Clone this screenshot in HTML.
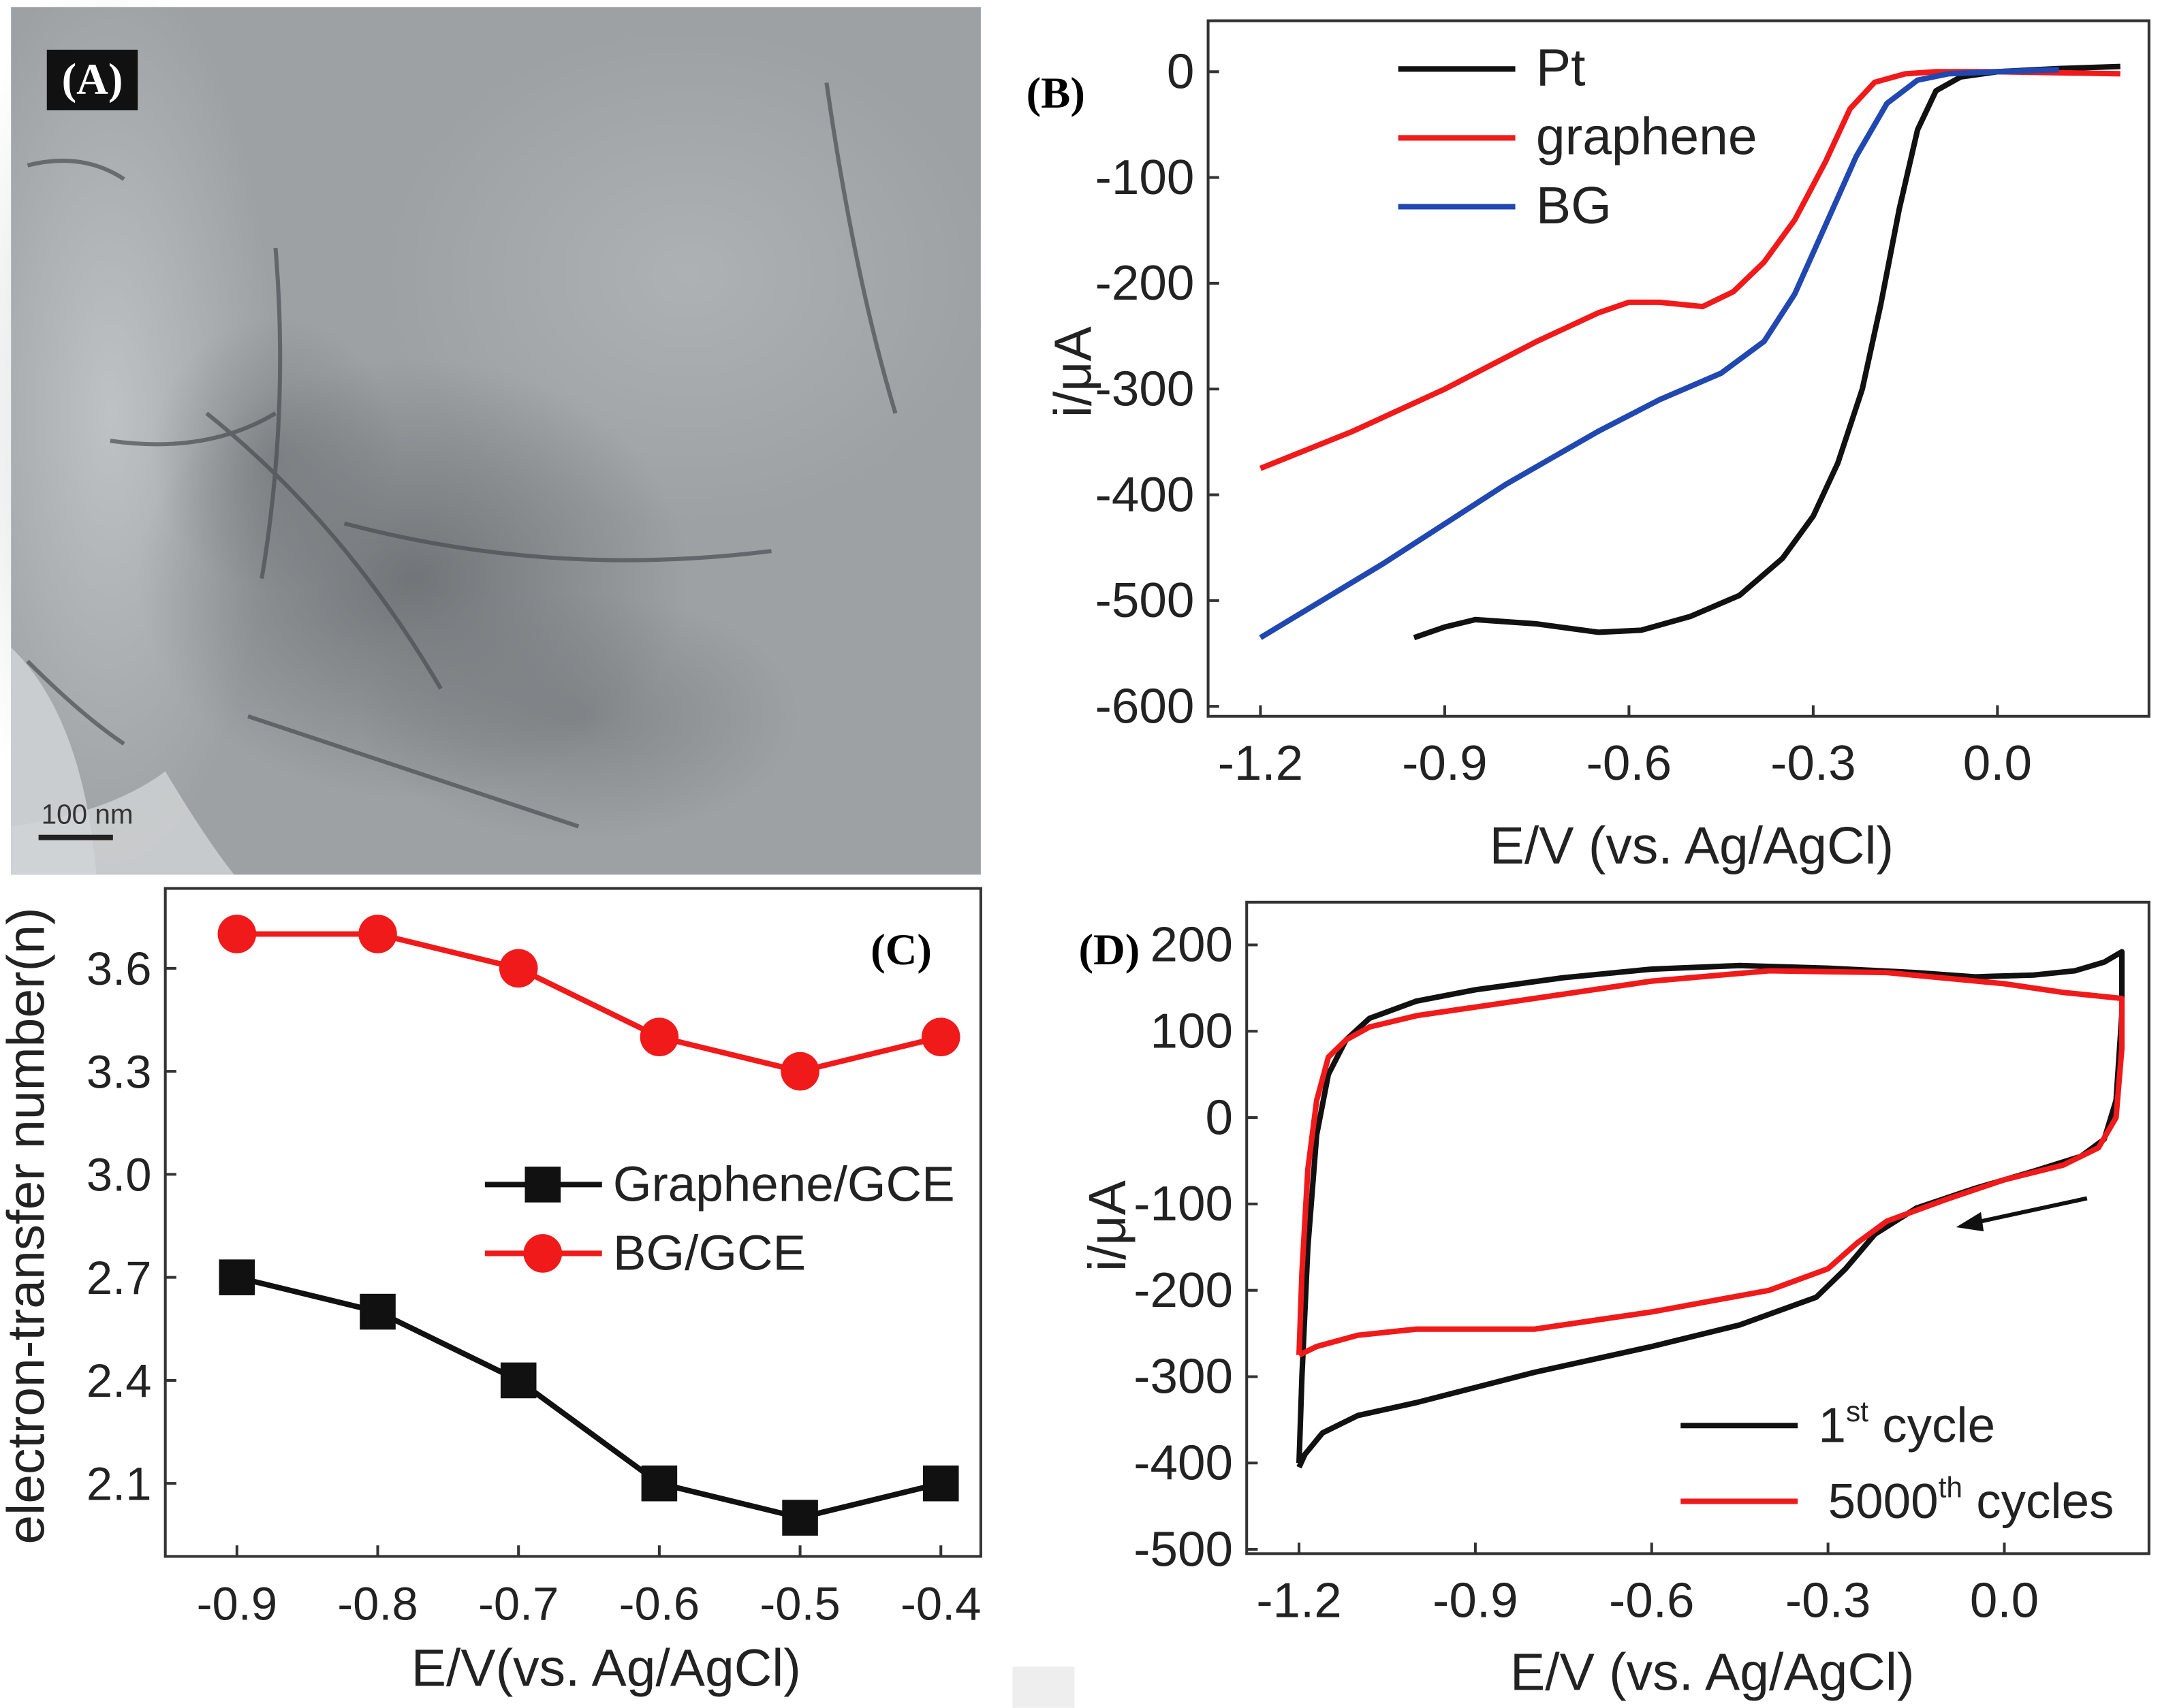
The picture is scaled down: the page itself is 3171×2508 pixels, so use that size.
<!DOCTYPE html>
<html><head><meta charset="utf-8"><style>
html,body{margin:0;padding:0;background:#fff}
svg{display:block}
text{font-family:"Liberation Sans",sans-serif}
.t{font-size:36px;fill:#222}
.tc{font-size:34px;fill:#222}
.ti{font-size:38px;fill:#222}
.lb{font-size:38px;fill:#222}
.pl{font-family:"Liberation Serif",serif;font-weight:bold;font-size:32px}
</style></head><body>
<svg id="fig" width="3171" height="2508" viewBox="0 0 1568 1240" xmlns="http://www.w3.org/2000/svg">
<defs>
<radialGradient id="dk1" cx="0.5" cy="0.5" r="0.5"><stop offset="0" stop-color="#5e6266" stop-opacity="0.7"/><stop offset="1" stop-color="#5e6266" stop-opacity="0"/></radialGradient>
<radialGradient id="lt1" cx="0.5" cy="0.5" r="0.5"><stop offset="0" stop-color="#c6cacc" stop-opacity="0.8"/><stop offset="1" stop-color="#c6cacc" stop-opacity="0"/></radialGradient>
</defs>
<g>
<rect x="8" y="5" width="704" height="630" fill="#9da1a4"/>
<ellipse cx="80" cy="300" rx="120" ry="330" fill="url(#lt1)"/>
<ellipse cx="500" cy="200" rx="220" ry="180" fill="url(#lt1)" opacity="0.5"/>
<ellipse cx="300" cy="420" rx="200" ry="160" fill="url(#dk1)"/>
<ellipse cx="420" cy="520" rx="160" ry="90" fill="url(#dk1)" opacity="0.6"/>
<ellipse cx="200" cy="330" rx="90" ry="100" fill="url(#dk1)" opacity="0.6"/>
<path d="M8 470 Q60 520 70 635 L8 635 Z" fill="#c9cdcf"/>
<path d="M120 560 Q150 610 170 635 L8 635 L8 600 Q80 590 120 560Z" fill="#d2d5d6" opacity="0.8"/>
<g stroke="#4a4e52" stroke-width="3" fill="none" opacity="0.7">
<path d="M20 120 Q60 110 90 130"/><path d="M80 320 Q150 330 200 300"/><path d="M150 300 Q250 380 320 500"/>
<path d="M20 480 Q60 520 90 540"/><path d="M200 180 Q210 300 190 420"/><path d="M600 60 Q620 200 650 300"/>
<path d="M250 380 Q400 420 560 400"/><path d="M180 520 Q300 560 420 600"/>
</g>
<rect x="34" y="36" width="66" height="44" fill="#111"/>
<text x="67" y="68" class="pl" fill="#fff" text-anchor="middle">(A)</text>
<line x1="28" y1="608" x2="82" y2="608" stroke="#222" stroke-width="4"/>
<text x="30" y="598" font-size="20" fill="#333" font-family="Liberation Mono">100 nm</text>
</g>
<rect x="735" y="1210" width="45" height="30" fill="#eee"/>
<g id="pB"></g>
<g id="pC"></g>
<g id="pD"></g>
</svg>
<script>
const NS="http://www.w3.org/2000/svg";
function el(p,tag,a,txt){const e=document.createElementNS(NS,tag);for(const k in a)e.setAttribute(k,a[k]);if(txt!=null)e.textContent=txt;p.appendChild(e);return e;}
// ---- Panel B data ----
const bXTicks=[-1.2,-0.9,-0.6,-0.3,0.0];
const bYTicks=[0,-100,-200,-300,-400,-500,-600];
const ptE=[-0.95,-0.9,-0.85,-0.75,-0.65,-0.58,-0.5,-0.42,-0.35,-0.3,-0.26,-0.22,-0.19,-0.16,-0.13,-0.1,-0.06,0.0,0.1,0.2];
const ptI=[-535,-525,-518,-522,-530,-528,-515,-495,-460,-420,-370,-300,-220,-130,-55,-18,-5,0,3,5];
const grE=[-1.2,-1.05,-0.9,-0.75,-0.65,-0.6,-0.55,-0.48,-0.43,-0.38,-0.33,-0.28,-0.24,-0.2,-0.15,-0.1,0.0,0.2];
const grI=[-375,-340,-300,-255,-228,-218,-218,-222,-208,-180,-140,-85,-35,-10,-2,0,0,-2];
const bgE=[-1.2,-1.0,-0.8,-0.65,-0.55,-0.45,-0.38,-0.33,-0.28,-0.23,-0.18,-0.13,-0.08,0.0,0.1];
const bgI=[-535,-465,-390,-340,-310,-285,-255,-210,-145,-80,-30,-8,-2,0,2];
// ---- Panel C data ----
const cE=[-0.9,-0.8,-0.7,-0.6,-0.5,-0.4];
const cGraphene=[2.7,2.6,2.4,2.1,2.0,2.1];
const cBG=[3.7,3.7,3.6,3.4,3.3,3.4];
const cXTicks=[-0.9,-0.8,-0.7,-0.6,-0.5,-0.4];
const cYTicks=[2.1,2.4,2.7,3.0,3.3,3.6];
// ---- Panel D data ----
const dXTicks=[-1.2,-0.9,-0.6,-0.3,0.0];
const dYTicks=[200,100,0,-100,-200,-300,-400,-500];
const d1E=[-1.2,-1.195,-1.185,-1.17,-1.15,-1.12,-1.08,-1.0,-0.9,-0.75,-0.6,-0.45,-0.3,-0.15,-0.05,0.05,0.12,0.17,0.2,0.2,0.19,0.17,0.13,0.05,-0.05,-0.15,-0.22,-0.27,-0.32,-0.45,-0.6,-0.8,-1.0,-1.1,-1.16,-1.19,-1.2];
const d1I=[-400,-300,-150,-20,50,90,115,135,148,162,172,176,173,168,163,165,170,180,192,120,20,-25,-45,-62,-82,-105,-135,-175,-208,-240,-265,-295,-330,-345,-365,-390,-405];
const d2E=[-1.2,-1.195,-1.185,-1.17,-1.15,-1.12,-1.08,-1.0,-0.8,-0.6,-0.4,-0.2,0.0,0.1,0.2,0.2,0.19,0.16,0.1,0.0,-0.1,-0.2,-0.25,-0.3,-0.4,-0.6,-0.8,-1.0,-1.1,-1.17,-1.2];
const d2I=[-275,-180,-60,20,70,90,105,118,138,158,170,168,155,145,138,80,0,-35,-55,-72,-95,-120,-145,-175,-200,-225,-245,-245,-252,-265,-275];

function axes(g,o){
  const cls=o.cls||'t';
  el(g,'rect',{x:o.x0,y:o.y0,width:o.x1-o.x0,height:o.y1-o.y0,fill:'none',stroke:'#333','stroke-width':2});
  o.xt.forEach(v=>{const x=o.sx(v);
    const t=el(g,'line',{x1:x,x2:x,y1:o.y1,y2:o.y1-8,stroke:'#333','stroke-width':2});
    
    const l=el(g,'text',{x:x,y:o.y1+46,'text-anchor':'middle',class:cls},o.xf(v));
    });
  o.yt.forEach(v=>{const y=o.sy(v);
    const t=el(g,'line',{x1:o.x0,x2:o.x0+8,y1:y,y2:y,stroke:'#333','stroke-width':2});
    
    const l=el(g,'text',{x:o.x0-10,y:y+12,'text-anchor':'end',class:cls},o.yf(v));
    });
}
function line(g,xs,ys,sx,sy,c,w,name){
  const d=xs.map((v,i)=>(i?'L':'M')+sx(v).toFixed(1)+' '+sy(ys[i]).toFixed(1)).join(' ');
  const p=el(g,'path',{d:d,fill:'none',stroke:c,'stroke-width':w,'stroke-linejoin':'round'});
  return p;
}
function leg(g,x,y,c,label,tc,name,cls){
  const gg=el(g,'g',{});
  el(gg,'line',{x1:x,x2:x+85,y1:y,y2:y,stroke:c,'stroke-width':4});
  el(gg,'text',{x:x+100,y:y+12,class:cls||'t',fill:tc||'#222'},label);return gg;
}
const f1=v=>v.toFixed(1), f0=v=>String(v);
// Panel B
(function(){const g=document.getElementById('pB');
 const sx=v=>915+(v+1.2)/0.3*133.75, sy=v=>52-v/100*76.8;
 axes(g,{x0:877,x1:1560,y0:15,y1:520,sx,sy,xt:bXTicks,yt:bYTicks,xf:f1,yf:f0});
 line(g,ptE,ptI,sx,sy,'#111',4,'pt-curve');
 line(g,grE,grI,sx,sy,'#f01a1a',4,'graphene-curve');
 line(g,bgE,bgI,sx,sy,'#2048b0',4,'bg-curve');
 leg(g,1015,50,'#111','Pt',null,'legend-pt','lb');leg(g,1015,100,'#f01a1a','graphene',null,'legend-graphene','lb');leg(g,1015,150,'#2048b0','BG',null,'legend-bg','lb');
 const a=el(g,'text',{x:745,y:78,class:'pl'},'(B)');
 const xt=el(g,'text',{x:1228,y:627,'text-anchor':'middle',class:'ti'},'E/V (vs. Ag/AgCl)');
 const yt=el(g,'text',{x:0,y:0,'text-anchor':'middle',class:'ti',transform:'translate(792,270) rotate(-90)'},'i/μA');
})();
// Panel C
(function(){const g=document.getElementById('pC');
 const sx=v=>172+(v+0.9)/0.1*102.2, sy=v=>1077-(v-2.1)/0.3*74.8;
 axes(g,{x0:120,x1:712,y0:645,y1:1130,sx,sy,xt:cXTicks,yt:cYTicks,xf:f1,yf:f1,cls:'tc'});
 line(g,cE,cGraphene,sx,sy,'#111',4,'graphene-gce-line');
 line(g,cE,cBG,sx,sy,'#f01a1a',4,'bg-gce-line');
 cE.forEach((v,i)=>{const r=el(g,'rect',{x:sx(v)-13,y:sy(cGraphene[i])-13,width:26,height:26,fill:'#111'});
  const c=el(g,'circle',{cx:sx(v),cy:sy(cBG[i]),r:14,fill:'#f01a1a'});});
 const l1=leg(g,352,860,'#111','Graphene/GCE',null,'legend-graphene-gce');el(l1,'rect',{x:381,y:847,width:26,height:26,fill:'#111'});
 l1.lastChild.previousSibling.setAttribute('x',445);
 const l2=leg(g,352,910,'#f01a1a','BG/GCE','#f01a1a','legend-bg-gce');el(l2,'circle',{cx:394,cy:910,r:14,fill:'#f01a1a'});
 l2.lastChild.previousSibling.setAttribute('x',445);
 const a=el(g,'text',{x:632,y:700,class:'pl'},'(C)');
 const xt=el(g,'text',{x:440,y:1224,'text-anchor':'middle',class:'ti'},'E/V(vs. Ag/AgCl)');
 const yt=el(g,'text',{x:0,y:0,'text-anchor':'middle',class:'ti',transform:'translate(32,890) rotate(-90)'},'electron-transfer number(n)');
})();
// Panel D
(function(){const g=document.getElementById('pD');
 const sx=v=>943+(v+1.2)/0.3*128, sy=v=>686+(200-v)/100*62.7;
 axes(g,{x0:905,x1:1560,y0:655,y1:1128,sx,sy,xt:dXTicks,yt:dYTicks,xf:f1,yf:f0});
 line(g,d1E,d1I,sx,sy,'#111',4,'first-cycle-curve');
 line(g,d2E,d2I,sx,sy,'#f01a1a',4,'cycle-5000-curve');
 const ar=el(g,'g',{});
 el(ar,'line',{x1:1515,y1:870,x2:1432,y2:888,stroke:'#111','stroke-width':3});
 el(ar,'path',{d:'M1420 891 L1438 880 L1440 894 Z',fill:'#111'});
 const l1=leg(g,1220,1035,'#111','',null,'legend-first-cycle');
 const t1=el(l1,'text',{x:1320,y:1047,class:'t'});t1.innerHTML='1<tspan font-size="21" dy="-15">st</tspan><tspan dy="15"> cycle</tspan>';
 const l2=leg(g,1220,1090,'#f01a1a','',null,'legend-5000-cycles');
 const t2=el(l2,'text',{x:1327,y:1102,class:'t'});t2.innerHTML='5000<tspan font-size="21" dy="-15">th</tspan><tspan dy="15"> cycles</tspan>';
 const a=el(g,'text',{x:783,y:700,class:'pl'},'(D)');
 const xt=el(g,'text',{x:1243,y:1227,'text-anchor':'middle',class:'ti'},'E/V (vs. Ag/AgCl)');
 const yt=el(g,'text',{x:0,y:0,'text-anchor':'middle',class:'ti',transform:'translate(817,890) rotate(-90)'},'i/μA');
})();
</script>
</body></html>
